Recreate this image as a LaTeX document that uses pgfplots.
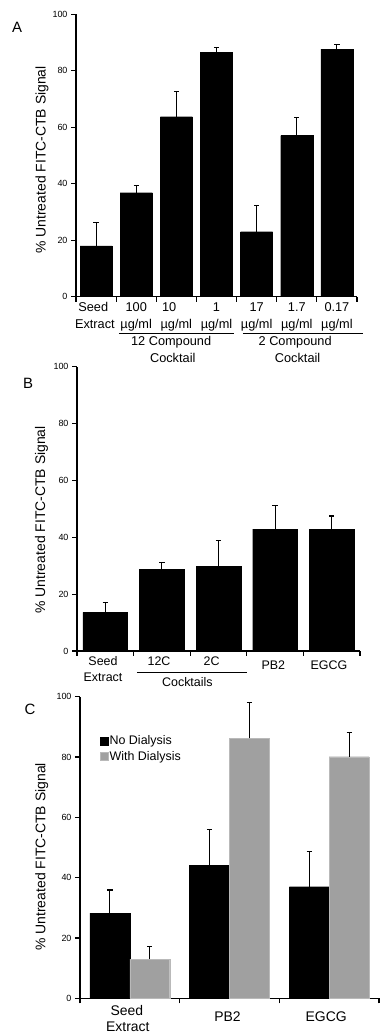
\documentclass[border=0pt]{standalone}
\usepackage{fontspec}
\setmainfont{Liberation Sans}
\usepackage{pgfplots}
\pgfplotsset{compat=1.18}
\definecolor{bargray}{RGB}{160,160,160}
\definecolor{bargrayedge}{RGB}{185,185,185}
\newcommand{\cl}[3]{\node[anchor=base,inner sep=0pt,font=\lf] at ([yshift=-#2bp]axis cs:#1,0) {#3};}
\pgfplotsset{
 panel/.style={
  scale only axis, clip=false,
  axis x line*=bottom, axis y line*=left,
  axis line style={line width=1.2bp,-},
  every tick/.style={line width=1.1bp, black},
  tick align=outside, major tick length=5bp,
  ymin=0, ymax=100, ytick={0,20,40,60,80,100},
  xticklabels={},
  /pgf/number format/assume math mode=true,
  yticklabel style={font=\fontsize{9}{10}\selectfont},
  ylabel={\% Untreated FITC-CTB Signal},
  ybar,
 },
 errb/.style={error bars/.cd, y dir=plus, y explicit,
   error bar style={line width=1.1bp, black},
   error mark options={rotate=90, line width=1.1bp, mark size=2.6bp, black}},
}
\begin{document}
\begin{tikzpicture}
\path (0,0) rectangle (380bp,1036bp);
% panel letters
\node[font=\fontsize{15}{16}\selectfont] at (17bp,1008.5bp) {A};
\node[font=\fontsize{15}{16}\selectfont] at (28bp,652.3bp) {B};
\node[font=\fontsize{15}{16}\selectfont] at (30bp,327bp) {C};
% ---------- Panel A ----------
\def\lf{\fontsize{12.8}{14}\selectfont}
\begin{axis}[panel, at={(76bp,739.3bp)}, anchor=south west,
  width=281bp, height=282.5bp,
  xmin=-0.5, xmax=6.5, xtick={-0.5,0.5,1.5,2.5,3.5,4.5,5.5,6.5},
  ylabel style={at={(axis description cs:-0.121,0.484)}, anchor=center, font=\fontsize{14}{15}\selectfont}]
\addplot[fill=black, draw=black, bar width=0.8, bar shift=0, errb]
 table[x=x, y=y, y error=e] {
x y e
0 18.0 8.3
1 36.8 2.4
2 63.7 8.9
3 86.5 1.6
4 23.0 9.3
5 57.0 6.4
6 87.6 1.7
};
\cl{-0.07}{15}{Seed} \cl{-0.03}{31.6}{Extract}
\cl{1}{15}{100} \cl{1}{31.6}{µg/ml}
\cl{1.82}{15}{10} \cl{2}{31.6}{µg/ml}
\cl{3}{15}{1} \cl{3}{31.6}{µg/ml}
\cl{4}{15}{17} \cl{4}{31.6}{µg/ml}
\cl{5}{15}{1.7} \cl{5}{31.6}{µg/ml}
\cl{6}{15}{0.17} \cl{6}{31.6}{µg/ml}
\draw[line width=0.9bp] ([yshift=-36.3bp]axis cs:0.57,0) -- ([yshift=-36.3bp]axis cs:3.44,0);
\draw[line width=0.9bp] ([yshift=-36.3bp]axis cs:3.66,0) -- ([yshift=-36.3bp]axis cs:6.65,0);
\cl{1.87}{48.8}{12 Compound} \cl{1.91}{66.3}{Cocktail}
\cl{4.96}{48.8}{2 Compound} \cl{5.02}{66.3}{Cocktail}
\end{axis}
% ---------- Panel B ----------
\def\lf{\fontsize{12.5}{14}\selectfont}
\begin{axis}[panel, at={(77bp,385bp)}, anchor=south west,
  width=283bp, height=284.3bp,
  xmin=-0.5, xmax=4.5, xtick={-0.5,0.5,1.5,2.5,3.5,4.5},
  ylabel style={at={(axis description cs:-0.125,0.461)}, anchor=center, font=\fontsize{14}{15}\selectfont}]
\addplot[fill=black, draw=black, bar width=0.79, bar shift=0, errb]
 table[x=x, y=y, y error=e] {
x y e
0 13.6 3.4
1 28.8 2.4
2 29.8 9.2
3 42.9 8.3
4 42.9 4.6
};
\cl{-0.04}{15}{Seed} \cl{-0.04}{31}{Extract}
\cl{0.95}{15}{12C} \cl{1.88}{15}{2C}
\cl{2.97}{19}{PB2} \cl{3.95}{19}{EGCG}
\draw[line width=0.9bp] ([yshift=-21.7bp]axis cs:0.56,0) -- ([yshift=-21.7bp]axis cs:2.5,0);
\cl{1.45}{35.7}{Cocktails}
\end{axis}
% ---------- Panel C ----------
\def\lf{\fontsize{14}{15}\selectfont}
\begin{axis}[panel, at={(80bp,37.7bp)}, anchor=south west,
  width=299bp, height=301.6bp,
  xmin=-0.5, xmax=2.5, xtick={-0.5,0.5,1.5,2.5},
  ylabel style={at={(axis description cs:-0.128,0.469)}, anchor=center, font=\fontsize{14}{15}\selectfont},
  legend style={draw=none, fill=none, at={(axis description cs:0.067,0.875)}, anchor=north west,
    inner sep=0pt, font=\fontsize{12.5}{13}\selectfont, row sep=3bp,
    nodes={inner sep=1bp}},
  legend cell align=left,
  legend image code/.code={\fill[#1] (0bp,-4bp) rectangle (8bp,4bp);}]
\addplot[fill=black, draw=black, bar width=0.4, bar shift=-0.2, errb]
 table[x=x, y=y, y error=e] {
x y e
0 28.2 7.7
1 44.0 12.1
2 37.0 11.7
};
\addlegendentry{No Dialysis}
\addplot[fill=bargray, draw=bargrayedge, bar width=0.4, bar shift=0.2, errb]
 table[x=x, y=y, y error=e] {
x y e
0 13.0 4.1
1 86.2 11.8
2 80.1 7.9
};
\addlegendentry{With Dialysis}
\cl{-0.03}{16.7}{Seed} \cl{-0.02}{33}{Extract}
\cl{0.98}{23.4}{PB2} \cl{1.97}{23.4}{EGCG}
\end{axis}
\end{tikzpicture}
\end{document}
